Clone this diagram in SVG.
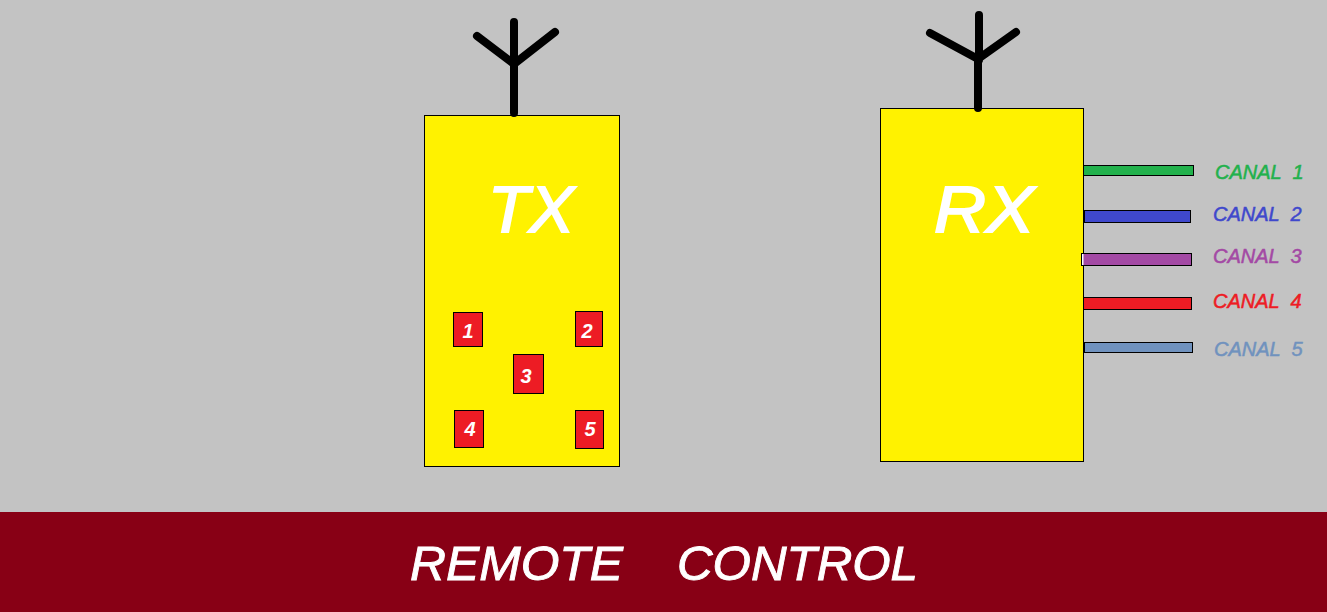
<svg xmlns="http://www.w3.org/2000/svg" width="1327" height="612" viewBox="0 0 1327 612">
<style>
text{font-family:"Liberation Sans",Arial,sans-serif;font-style:italic}
.box{fill:#fff200;stroke:#000;stroke-width:1}
.btn{fill:#ed1c24;stroke:#000;stroke-width:1}
.btn-t{fill:#fff;font-size:20px;font-weight:bold;text-anchor:middle}
.ch{stroke:#000;stroke-width:1}
.ch-t{font-size:20px;stroke-width:.5;paint-order:stroke}
.ant{fill:none;stroke:#000;stroke-width:8;stroke-linecap:round;stroke-linejoin:round}
.big{fill:#fff;stroke:#fff;stroke-width:1.8;font-size:64px}
.title{fill:#fff;stroke:#fff;stroke-width:.9;font-size:48px}
</style>
<rect id="background" width="1327" height="612" fill="#c3c3c3"/>
<g id="title-bar">
<rect y="512" width="1327" height="100" fill="#880015"/>
<text class="title" x="410" y="580" textLength="213" lengthAdjust="spacingAndGlyphs">REMOTE</text>
<text class="title" x="677" y="580" textLength="241" lengthAdjust="spacingAndGlyphs">CONTROL</text>
</g>
<g id="tx">
<rect class="box" x="424.5" y="115.5" width="195" height="351"/>
<text class="big" x="488" y="232" textLength="86" lengthAdjust="spacingAndGlyphs">TX</text>
<path class="ant" d="M514 22V113M477 36L514 64L555 32"/>
</g>
<g id="rx">
<rect class="box" x="880.5" y="108.5" width="203" height="353"/>
<text class="big" x="934" y="232" textLength="100" lengthAdjust="spacingAndGlyphs">RX</text>
<path class="ant" d="M979 15V60M978 60V108M930 33L978 59L1016 32"/>
</g>
<g id="button-1"><rect class="btn" x="453.5" y="312.5" width="29" height="34"/><text class="btn-t" x="468" y="338">1</text></g>
<g id="button-2"><rect class="btn" x="575.5" y="311.5" width="27" height="35"/><text class="btn-t" x="587" y="338">2</text></g>
<g id="button-3"><rect class="btn" x="513.5" y="354.5" width="30" height="39"/><text class="btn-t" x="526" y="383">3</text></g>
<g id="button-4"><rect class="btn" x="454.5" y="410.5" width="29" height="37"/><text class="btn-t" x="470" y="436">4</text></g>
<g id="button-5"><rect class="btn" x="575.5" y="410.5" width="28" height="38"/><text class="btn-t" x="590" y="436">5</text></g>
<g id="connectors">
<rect class="ch" x="1083.5" y="165.5" width="110" height="10" fill="#22b14c"/>
<rect class="ch" x="1084.5" y="210.5" width="106" height="12" fill="#3f48cc"/>
<rect class="ch" x="1081.5" y="253.5" width="110" height="12" fill="#a349a4"/>
<rect x="1082" y="254" width="1.5" height="11" fill="#fff"/>
<rect class="ch" x="1083.5" y="297.5" width="108" height="12" fill="#ed1c24"/>
<rect class="ch" x="1084.5" y="342.5" width="108" height="10" fill="#7092be"/>
</g>
<g id="channel-labels">
<text class="ch-t" x="1215" y="179" fill="#22b14c" stroke="#22b14c" xml:space="preserve">CANAL  1</text>
<text class="ch-t" x="1213" y="221" fill="#3f48cc" stroke="#3f48cc" xml:space="preserve">CANAL  2</text>
<text class="ch-t" x="1213" y="263" fill="#a349a4" stroke="#a349a4" xml:space="preserve">CANAL  3</text>
<text class="ch-t" x="1213" y="308" fill="#ed1c24" stroke="#ed1c24" xml:space="preserve">CANAL  4</text>
<text class="ch-t" x="1214" y="356" fill="#7092be" stroke="#7092be" xml:space="preserve">CANAL  5</text>
</g>
</svg>
